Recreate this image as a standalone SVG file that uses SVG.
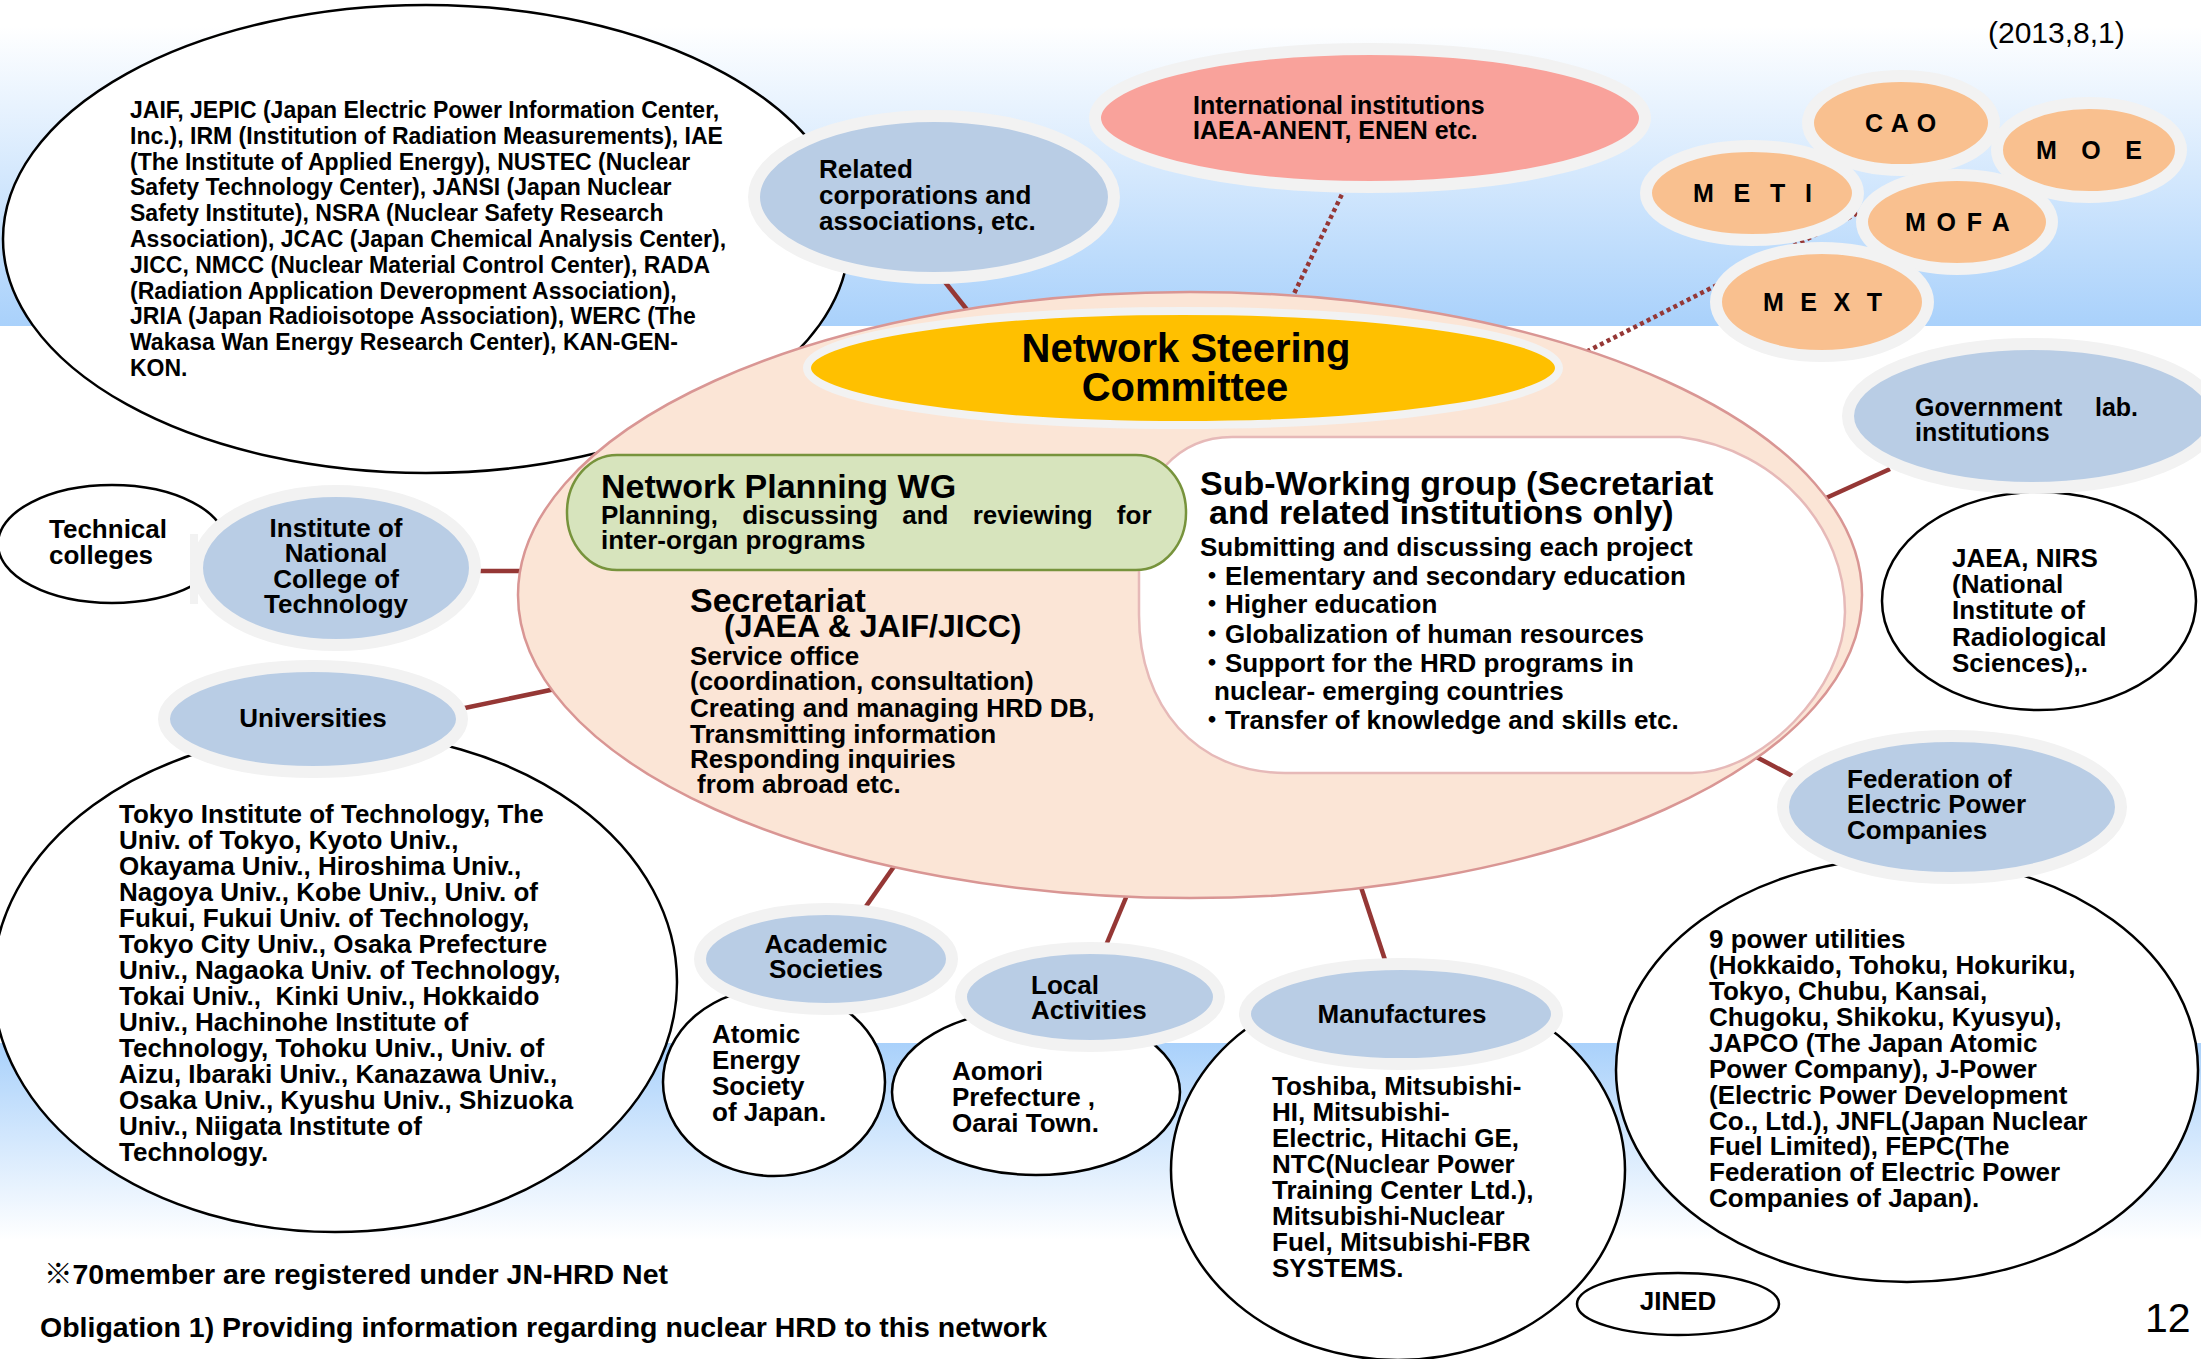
<svg xmlns="http://www.w3.org/2000/svg" width="2201" height="1359" viewBox="0 0 2201 1359">
<defs>
<linearGradient id="bandTop" x1="0" y1="0" x2="0" y2="1">
<stop offset="0.08" stop-color="#ffffff"/>
<stop offset="1" stop-color="#a9d1fb"/>
</linearGradient>
<linearGradient id="bandBot" x1="0" y1="0" x2="0" y2="1">
<stop offset="0" stop-color="#a9d1fb"/>
<stop offset="1" stop-color="#ffffff"/>
</linearGradient>
<style>
text{font-family:"Liberation Sans",Arial,"Noto Sans CJK JP",sans-serif;font-weight:bold;fill:#000}
.f23{font-size:23px}
.f25{font-size:25px}
.f26{font-size:26px}
.f32{font-size:32px}
.f34{font-size:34px}
.f40{font-size:40px}
.mid{text-anchor:middle}
.wht{fill:#ffffff;stroke:#000;stroke-width:2.5}
.blu{fill:#b9cde5;stroke:#f2f2f2;stroke-width:12}
.org{fill:#f9c08f;stroke:#f2f2f2;stroke-width:12}
.con{stroke:#953735;stroke-width:4.5;fill:none}
.dot{stroke:#953735;stroke-width:4.5;stroke-dasharray:4 3.5;fill:none}
</style>
</defs>

<rect x="0" y="0" width="2201" height="1359" fill="#ffffff"/>
<rect x="0" y="0" width="2201" height="326" fill="url(#bandTop)"/>
<rect x="0" y="1043" width="2201" height="197" fill="url(#bandBot)"/>

<g id="connectors">
<line class="con" x1="941" y1="277" x2="972" y2="316"/>
<line class="con" x1="470" y1="571" x2="530" y2="571"/>
<line class="con" x1="460" y1="709" x2="560" y2="688"/>
<line class="con" x1="900" y1="858" x2="862" y2="912"/>
<line class="con" x1="1130" y1="888" x2="1104" y2="950"/>
<line class="con" x1="1358" y1="878" x2="1387" y2="966"/>
<line class="con" x1="1745" y1="751" x2="1800" y2="780"/>
<line class="con" x1="1890" y1="469" x2="1815" y2="503"/>
<line class="dot" x1="1345" y1="188" x2="1290" y2="302"/>
<line class="dot" x1="1580" y1="355" x2="1860" y2="212"/>
</g>

<g id="jaif-list">
<ellipse class="wht" cx="426" cy="239" rx="423" ry="234"/>
<text class="f23" x="130" y="118">JAIF, JEPIC (Japan Electric Power Information Center,</text>
<text class="f23" x="130" y="144">Inc.), IRM (Institution of Radiation Measurements), IAE</text>
<text class="f23" x="130" y="170">(The Institute of Applied Energy), NUSTEC (Nuclear</text>
<text class="f23" x="130" y="195">Safety Technology Center), JANSI (Japan Nuclear</text>
<text class="f23" x="130" y="221">Safety Institute), NSRA (Nuclear Safety Research</text>
<text class="f23" x="130" y="247">Association), JCAC (Japan Chemical Analysis Center),</text>
<text class="f23" x="130" y="273">JICC, NMCC (Nuclear Material Control Center), RADA</text>
<text class="f23" x="130" y="299">(Radiation Application Deveropment Association),</text>
<text class="f23" x="130" y="324">JRIA (Japan Radioisotope Association), WERC (The</text>
<text class="f23" x="130" y="350">Wakasa Wan Energy Research Center), KAN-GEN-</text>
<text class="f23" x="130" y="376">KON.</text>
</g>

<g id="related">
<ellipse class="blu" cx="934" cy="197" rx="180" ry="81"/>
<text class="f26" x="819" y="178">Related</text>
<text class="f26" x="819" y="204">corporations and</text>
<text class="f26" x="819" y="230">associations, etc.</text>
</g>

<g id="international">
<ellipse cx="1370" cy="118" rx="275" ry="69" fill="#f9a29b" stroke="#f2f2f2" stroke-width="12"/>
<text class="f25" x="1193" y="114">International institutions</text>
<text class="f25" x="1193" y="139">IAEA-ANENT, ENEN etc.</text>
</g>

<g id="cao">
<ellipse class="org" cx="1901" cy="123" rx="93" ry="47"/>
<text class="f25" x="1865" y="132" style="letter-spacing:0.9px">C A O</text>
</g>
<g id="meti">
<ellipse class="org" cx="1752" cy="193" rx="106" ry="47"/>
<text class="f25" x="1693" y="202" style="letter-spacing:6.4px">M E T I</text>
</g>
<g id="moe">
<ellipse class="org" cx="2089" cy="150" rx="92" ry="47"/>
<text class="f25" x="2036" y="159" style="letter-spacing:8.8px">M O E</text>
</g>
<g id="mofa">
<ellipse class="org" cx="1957" cy="222" rx="95" ry="47"/>
<text class="f25" x="1905" y="231" style="letter-spacing:1.9px">M O F A</text>
</g>
<g id="mext">
<ellipse class="org" cx="1822" cy="302" rx="106" ry="54"/>
<text class="f25" x="1763" y="311" style="letter-spacing:4.8px">M E X T</text>
</g>

<g id="jaea-nirs">
<ellipse class="wht" cx="2039" cy="601" rx="157" ry="109"/>
<text class="f26" x="1952" y="567">JAEA, NIRS</text>
<text class="f26" x="1952" y="593">(National</text>
<text class="f26" x="1952" y="619">Institute of</text>
<text class="f26" x="1952" y="646">Radiological</text>
<text class="f26" x="1952" y="672">Sciences),.</text>
</g>

<g id="government">
<ellipse class="blu" cx="2032" cy="416" rx="184" ry="72"/>
<text class="f25" x="1915" y="416">Government<tspan x="2095">lab.</tspan></text>
<text class="f25" x="1915" y="441">institutions</text>
</g>

<g id="network">
<ellipse cx="1190" cy="595" rx="672" ry="303" fill="#fbe5d6" stroke="#d99694" stroke-width="2.5"/>
</g>

<g id="steering">
<ellipse cx="1183" cy="368" rx="376" ry="57" fill="#ffc000" stroke="#f2f2f2" stroke-width="8"/>
<text class="f40 mid" x="1186" y="362">Network Steering</text>
<text class="f40 mid" x="1185" y="401">Committee</text>
</g>

<g id="sub-wg">
<path d="M1232,437 L1680,437 C1780,450 1845,530 1845,612 C1845,690 1760,773 1692,773 L1285,773 C1195,773 1139,705 1139,615 L1139,540 C1139,480 1178,437 1232,437 Z" fill="#ffffff" stroke="#e6b9b8" stroke-width="2.5"/>
<text class="f34" x="1200" y="495">Sub-Working group (Secretariat</text>
<text class="f34" x="1209" y="524">and related institutions only)</text>
<text class="f26" x="1200" y="556">Submitting and discussing each project</text>
<text class="f26" x="1199" y="585">・Elementary and secondary education</text>
<text class="f26" x="1199" y="613">・Higher education</text>
<text class="f26" x="1199" y="643">・Globalization of human resources</text>
<text class="f26" x="1199" y="672">・Support for the HRD programs in</text>
<text class="f26" x="1214" y="700">nuclear- emerging countries</text>
<text class="f26" x="1199" y="729">・Transfer of knowledge and skills etc.</text>
</g>

<g id="planning-wg">
<rect x="567" y="455" width="619" height="115" rx="50" ry="57" fill="#d7e4bd" stroke="#77933c" stroke-width="2.5"/>
<text class="f34" x="601" y="498">Network Planning WG</text>
<text class="f26" x="601" y="524" style="word-spacing:17px">Planning, discussing and reviewing for</text>
<text class="f26" x="601" y="549">inter-organ programs</text>
</g>

<g id="secretariat">
<text class="f34" x="690" y="612">Secretariat</text>
<text class="f32" x="724" y="637">(JAEA &amp; JAIF/JICC)</text>
<text class="f26" x="690" y="665">Service office</text>
<text class="f26" x="690" y="690">(coordination, consultation)</text>
<text class="f26" x="690" y="717">Creating and managing HRD DB,</text>
<text class="f26" x="690" y="743">Transmitting information</text>
<text class="f26" x="690" y="768">Responding inquiries</text>
<text class="f26" x="697" y="793">from abroad etc.</text>
</g>

<g id="technical-colleges">
<ellipse class="wht" cx="112" cy="544" rx="114" ry="59"/>
<text class="f26" x="49" y="538">Technical</text>
<text class="f26" x="49" y="564">colleges</text>
</g>

<g id="institute">
<rect x="190" y="534" width="8" height="70" fill="#f2f2f2"/>
<ellipse class="blu" cx="336" cy="568" rx="139" ry="77"/>
<text class="f26 mid" x="336" y="537">Institute of</text>
<text class="f26 mid" x="336" y="562">National</text>
<text class="f26 mid" x="336" y="588">College of</text>
<text class="f26 mid" x="336" y="613">Technology</text>
</g>

<g id="universities-list">
<ellipse class="wht" cx="335" cy="982" rx="342" ry="250"/>
<text class="f26" x="119" y="823">Tokyo Institute of Technology, The</text>
<text class="f26" x="119" y="849">Univ. of Tokyo, Kyoto Univ.,</text>
<text class="f26" x="119" y="875">Okayama Univ., Hiroshima Univ.,</text>
<text class="f26" x="119" y="901">Nagoya Univ., Kobe Univ., Univ. of</text>
<text class="f26" x="119" y="927">Fukui, Fukui Univ. of Technology,</text>
<text class="f26" x="119" y="953">Tokyo City Univ., Osaka Prefecture</text>
<text class="f26" x="119" y="979">Univ., Nagaoka Univ. of Technology,</text>
<text class="f26" x="119" y="1005" xml:space="preserve">Tokai Univ.,  Kinki Univ., Hokkaido</text>
<text class="f26" x="119" y="1031">Univ., Hachinohe Institute of</text>
<text class="f26" x="119" y="1057">Technology, Tohoku Univ., Univ. of</text>
<text class="f26" x="119" y="1083">Aizu, Ibaraki Univ., Kanazawa Univ.,</text>
<text class="f26" x="119" y="1109">Osaka Univ., Kyushu Univ., Shizuoka</text>
<text class="f26" x="119" y="1135">Univ., Niigata Institute of</text>
<text class="f26" x="119" y="1161">Technology.</text>
</g>

<g id="universities">
<ellipse class="blu" cx="313" cy="719" rx="149" ry="53"/>
<text class="f26 mid" x="313" y="727">Universities</text>
</g>

<g id="atomic-energy">
<ellipse class="wht" cx="774" cy="1082" rx="111" ry="94"/>
<text class="f26" x="712" y="1043">Atomic</text>
<text class="f26" x="712" y="1069">Energy</text>
<text class="f26" x="712" y="1095">Society</text>
<text class="f26" x="712" y="1121">of Japan.</text>
</g>

<g id="academic">
<ellipse class="blu" cx="826" cy="959" rx="126" ry="50"/>
<text class="f26 mid" x="826" y="953">Academic</text>
<text class="f26 mid" x="826" y="978">Societies</text>
</g>

<g id="aomori">
<ellipse class="wht" cx="1036" cy="1092" rx="144" ry="83"/>
<text class="f26" x="952" y="1080">Aomori</text>
<text class="f26" x="952" y="1106">Prefecture ,</text>
<text class="f26" x="952" y="1132">Oarai Town.</text>
</g>

<g id="local">
<ellipse class="blu" cx="1090" cy="997" rx="129" ry="49"/>
<text class="f26" x="1031" y="994">Local</text>
<text class="f26" x="1031" y="1019">Activities</text>
</g>

<g id="manufactures-list">
<ellipse class="wht" cx="1398" cy="1170" rx="227" ry="190"/>
<text class="f26" x="1272" y="1095">Toshiba, Mitsubishi-</text>
<text class="f26" x="1272" y="1121">HI, Mitsubishi-</text>
<text class="f26" x="1272" y="1147">Electric, Hitachi GE,</text>
<text class="f26" x="1272" y="1173">NTC(Nuclear Power</text>
<text class="f26" x="1272" y="1199">Training Center Ltd.),</text>
<text class="f26" x="1272" y="1225">Mitsubishi-Nuclear</text>
<text class="f26" x="1272" y="1251">Fuel, Mitsubishi-FBR</text>
<text class="f26" x="1272" y="1277">SYSTEMS.</text>
</g>

<g id="manufactures">
<ellipse class="blu" cx="1401" cy="1014" rx="156" ry="50"/>
<text class="f26 mid" x="1402" y="1023">Manufactures</text>
</g>

<g id="fepc-list">
<ellipse class="wht" cx="1907" cy="1070" rx="291" ry="212"/>
<text class="f26" x="1709" y="948">9 power utilities</text>
<text class="f26" x="1709" y="974">(Hokkaido, Tohoku, Hokuriku,</text>
<text class="f26" x="1709" y="1000">Tokyo, Chubu, Kansai,</text>
<text class="f26" x="1709" y="1026">Chugoku, Shikoku, Kyusyu),</text>
<text class="f26" x="1709" y="1052">JAPCO (The Japan Atomic</text>
<text class="f26" x="1709" y="1078">Power Company), J-Power</text>
<text class="f26" x="1709" y="1104">(Electric Power Development</text>
<text class="f26" x="1709" y="1130">Co., Ltd.), JNFL(Japan Nuclear</text>
<text class="f26" x="1709" y="1155">Fuel Limited), FEPC(The</text>
<text class="f26" x="1709" y="1181">Federation of Electric Power</text>
<text class="f26" x="1709" y="1207">Companies of Japan).</text>
</g>

<g id="federation">
<ellipse class="blu" cx="1952" cy="807" rx="169" ry="71"/>
<text class="f26" x="1847" y="788">Federation of</text>
<text class="f26" x="1847" y="813">Electric Power</text>
<text class="f26" x="1847" y="839">Companies</text>
</g>

<g id="jined">
<ellipse class="wht" cx="1678" cy="1304" rx="101" ry="31"/>
<text class="f26 mid" x="1678" y="1310">JINED</text>
</g>

<g id="notes">
<text x="1988" y="43" style="font-size:30px;font-weight:normal">(2013,8,1)</text>
<text x="2145" y="1332" style="font-size:41px;font-weight:normal">12</text>
<text x="44" y="1284" style="font-size:28.5px">※70member are registered under JN-HRD Net</text>
<text x="40" y="1337" style="font-size:28.5px">Obligation 1) Providing information regarding nuclear HRD to this network</text>
</g>
</svg>
